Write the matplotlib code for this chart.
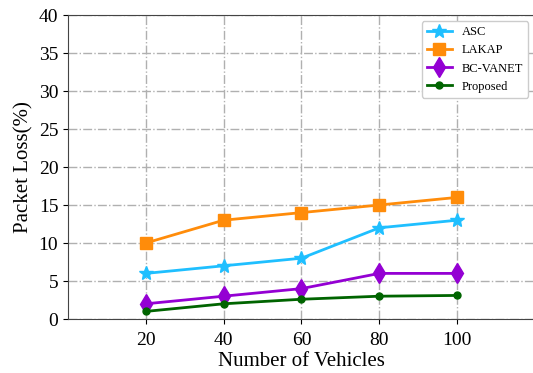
import matplotlib
matplotlib.use("Agg")
import matplotlib.pyplot as plt

plt.rcParams['font.family'] = ['Liberation Serif', 'DejaVu Serif']

vehicles = [20, 40, 60, 80, 100]
asc = [6, 7, 8, 12, 13]
lakap = [10, 13, 14, 15, 16]
bcvanet = [2, 3, 4, 6, 6]
proposed = [1, 2, 2.6, 3, 3.1]

fig = plt.figure(figsize=(5.33, 3.73), dpi=100)
ax = fig.add_axes([68/533, 1-319/373, (535-68)/533, (319-15)/373])

ax.plot(vehicles, asc, color='#1fbfff', marker='*', markersize=10, linewidth=2, label='ASC')
ax.plot(vehicles, lakap, color='#ff8c0a', marker='s', markersize=9, linewidth=2, label='LAKAP')
ax.plot(vehicles, bcvanet, color='#9400d3', marker='d', markersize=10, linewidth=2, label='BC-VANET')
ax.plot(vehicles, proposed, color='#006400', marker='o', markersize=5, linewidth=2, label='Proposed')

ax.set_xlim(0, 120)
ax.set_ylim(0, 40)
ax.set_xticks(vehicles)
ax.set_yticks(range(0, 41, 5))
ax.tick_params(labelsize=14)
ax.tick_params(axis='x', pad=6)
ax.set_xlabel('Number of Vehicles', fontsize=15, labelpad=2)
ax.set_ylabel('Packet Loss(%)', fontsize=15)
ax.grid(True, linestyle='-.', color='#b0b0b0', linewidth=1)
ax.spines['right'].set_visible(False)
for s in ['left', 'bottom', 'top']:
    ax.spines[s].set_color('#444444')

leg = ax.legend(loc='upper right', fontsize=9, frameon=True, fancybox=True, framealpha=1,
                borderaxespad=0)
leg.set_bbox_to_anchor((528/533, 1-21/373), transform=fig.transFigure)

fig.savefig('out.png', dpi=100)
